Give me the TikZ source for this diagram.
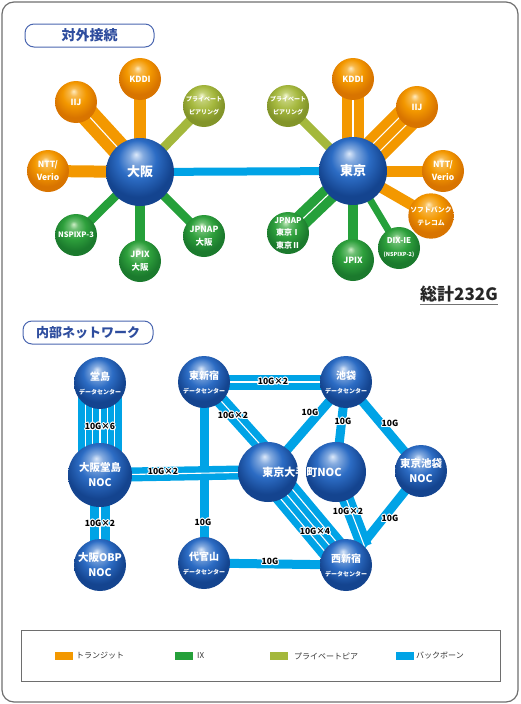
\documentclass[tikz,border=0pt]{standalone}
\usepackage{fontspec}
\setmainfont{Noto Sans CJK JP}
\usepackage{contour}
\contourlength{0.9pt}
\contournumber{16}
\usetikzlibrary{calc}

\definecolor{orgC}{HTML}{F39800}
\definecolor{grnC}{HTML}{25A03A}
\definecolor{limC}{HTML}{A4B83C}
\definecolor{bbC}{HTML}{00A3E6}
\definecolor{frameC}{HTML}{6E6E6E}
\definecolor{headC}{HTML}{2E4D9E}
\definecolor{headB}{HTML}{4A66B0}

\definecolor{sBhl}{HTML}{DCE9FA}
\definecolor{sBmid}{HTML}{2C6CC4}
\definecolor{sBdk}{HTML}{14448F}
\definecolor{sOhl}{HTML}{FFEBC0}
\definecolor{sOmid}{HTML}{F39800}
\definecolor{sOdk}{HTML}{D87400}
\definecolor{sGhl}{HTML}{CDEEC6}
\definecolor{sGmid}{HTML}{2EA03C}
\definecolor{sGdk}{HTML}{1B7A2D}
\definecolor{sLhl}{HTML}{F0F5CC}
\definecolor{sLmid}{HTML}{A6B93F}
\definecolor{sLdk}{HTML}{83952A}

\pgfdeclareradialshading{sphB}{\pgfqpoint{-3bp}{13bp}}{color(0bp)=(sBhl); color(5bp)=(sBmid!50!sBhl); color(14bp)=(sBmid); color(25bp)=(sBdk); color(50bp)=(sBdk)}
\pgfdeclareradialshading{sphO}{\pgfqpoint{-3bp}{13bp}}{color(0bp)=(sOhl); color(5bp)=(sOmid!60!sOhl); color(14bp)=(sOmid); color(25bp)=(sOdk); color(50bp)=(sOdk)}
\pgfdeclareradialshading{sphG}{\pgfqpoint{-3bp}{13bp}}{color(0bp)=(sGhl); color(5bp)=(sGmid!60!sGhl); color(14bp)=(sGmid); color(25bp)=(sGdk); color(50bp)=(sGdk)}
\pgfdeclareradialshading{sphL}{\pgfqpoint{-3bp}{13bp}}{color(0bp)=(sLhl); color(5bp)=(sLmid!60!sLhl); color(14bp)=(sLmid); color(25bp)=(sLdk); color(50bp)=(sLdk)}

\newcommand\fs[1]{\fontsize{#1}{#1}\selectfont}

\pgfdeclarelayer{links}
\pgfsetlayers{links,main}

\newcommand\mlink[5]{%
  \draw[#1, line width=#2pt] (#4.center) -- (#5.center);
  \pgfmathtruncatemacro\nbm{#3-1}%
  \ifnum\nbm>0
    \foreach \k in {1,...,\nbm}{%
      \pgfmathsetmacro\off{(\k/#3-0.5)*#2}%
      \draw[white, line width=1.1pt] ($(#4.center)!\off pt!90:(#5.center)$) -- ($(#5.center)!\off pt!-90:(#4.center)$);
    }%
  \fi}

\tikzset{
  sph/.style={circle, inner sep=0pt, text=white, font=\bfseries, align=center},
  sB/.style={sph, shading=sphB},
  sO/.style={sph, shading=sphO, minimum size=42pt},
  sG/.style={sph, shading=sphG, minimum size=42pt},
  sL/.style={sph, shading=sphL, minimum size=42pt},
  hdr/.style={draw=headB, line width=1pt, rounded corners=9pt, fill=white, text=headC, font=\bfseries},
  lbl/.style={inner sep=0pt, font=\fs{8.5}\bfseries, text=black},
  legt/.style={anchor=west, inner sep=0pt, font=\fs{8}, text=black!80},
}

\begin{document}
\begin{tikzpicture}[x=1pt, y=-1pt]
\useasboundingbox (0,0) rectangle (520,704);

% headings
\node[hdr, minimum width=129pt, minimum height=23pt] (h1) at (89.5,35.5) {\fs{14}対外接続};
\node[hdr, minimum width=130pt, minimum height=23pt] (h2) at (88,332.5) {\fs{13}内部ネットワーク};

% ---- external: Osaka
\node[sB, minimum size=68pt] (osk) at (140,172) {\fs{13}大阪};
\node[sO] (okddi) at (140,79) {\fs{8.5}KDDI};
\node[sO] (oiij) at (76,102) {\fs{8.5}IIJ};
\node[sL] (opp) at (204,106) {\fs{6}プライベート\\[1pt]\fs{6}ピアリング};
\node[sO] (ontt) at (48,171) {\fs{8.5}NTT/\\[1pt]\fs{8.5}Verio};
\node[sG] (onsp) at (76,235) {\fs{7.5}NSPIXP-3};
\node[sG] (ojpix) at (140,261) {\fs{8.5}JPIX\\[1pt]\fs{8.5}大阪};
\node[sG] (ojpnap) at (204,236) {\fs{8.5}JPNAP\\[1pt]\fs{8.5}大阪};

% ---- external: Tokyo
\node[sB, minimum size=68pt] (tky) at (353,171) {\fs{13}東京};
\node[sO] (tkddi) at (353,79) {\fs{8.5}KDDI};
\node[sO] (tiij) at (417,107) {\fs{8.5}IIJ};
\node[sO] (tntt) at (443,171) {\fs{8.5}NTT/\\[1pt]\fs{8.5}Verio};
\node[sO] (tsb) at (431,216) {\fs{6.8}ソフトバンク\\[1pt]\fs{6.8}テレコム};
\node[sG] (tdix) at (399,248) {\fs{8}DIX-IE\\[1pt]\fs{5.5}(NSPIXP-2)};
\node[sG] (tjpix) at (353,260) {\fs{8.5}JPIX};
\node[sG] (tjpnap) at (288,233) {\fs{8}JPNAP\\[0.5pt]\fs{8}東京Ⅰ\\[0.5pt]\fs{8}東京Ⅱ};
\node[sL] (tpp) at (288,106) {\fs{6}プライベート\\[1pt]\fs{6}ピアリング};

\node[inner sep=0pt, font=\fs{17}\bfseries, text=black!85] (total) at (459,294) {総計232G};
\draw[black!55, line width=1pt] (total.south west) ++(0,2.5) -- ++(78,0);

% ---- internal network
\node[sB, minimum size=52pt] (dojima) at (100,383) {\fs{10}堂島\\[2pt]\fs{6}データセンター};
\node[sB, minimum size=64pt] (dnoc) at (100,475) {\fs{10.5}大阪堂島\\[3pt]\fs{10.5}NOC};
\node[sB, minimum size=52pt] (obp) at (100,565) {\fs{10.5}大阪OBP\\[3pt]\fs{10.5}NOC};
\node[sB, minimum size=52pt] (higashi) at (204,382) {\fs{10}東新宿\\[2pt]\fs{6}データセンター};
\node[sB, minimum size=52pt] (daikan) at (204,563) {\fs{10}代官山\\[2pt]\fs{6}データセンター};
\node[sB, minimum size=52pt] (ikeb) at (346,382) {\fs{10}池袋\\[2pt]\fs{6}データセンター};
\node[sB, minimum size=60pt] (tkA) at (268,472) {};
\node[sB, minimum size=60pt] (tkB) at (336,472) {};
\node[inner sep=0pt, text=white, font=\fs{11}\bfseries] (tkT) at (302,472) {東京大手町NOC};
\node[sB, minimum size=52pt] (inoc) at (421,471) {\fs{10.5}東京池袋\\[3pt]\fs{10.5}NOC};
\node[sB, minimum size=52pt] (nishi) at (346,565) {\fs{10}西新宿\\[2pt]\fs{6}データセンター};

\coordinate (tkAin) at ($(tkA.center)!0.25!(tkB.center)$);

% ---- links
\begin{pgfonlayer}{links}
\draw[frameC, line width=1.2pt, rounded corners=12pt] (2,2) rectangle (518,702);
% Osaka
\mlink{orgC}{12}{1}{osk}{okddi}
\mlink{orgC}{23}{2}{osk}{oiij}
\mlink{orgC}{12}{1}{osk}{ontt}
\mlink{limC}{9}{1}{osk}{opp}
\mlink{grnC}{8.5}{1}{osk}{onsp}
\mlink{grnC}{10}{1}{osk}{ojpix}
\mlink{grnC}{8.5}{1}{osk}{ojpnap}
% backbone
\mlink{bbC}{8}{1}{osk}{tky}
% Tokyo
\mlink{orgC}{22}{2}{tky}{tkddi}
\mlink{orgC}{30}{3}{tky}{tiij}
\mlink{orgC}{11}{1}{tky}{tntt}
\mlink{orgC}{11}{1}{tky}{tsb}
\mlink{grnC}{7}{1}{tky}{tdix}
\mlink{grnC}{10}{1}{tky}{tjpix}
\mlink{grnC}{20}{2}{tky}{tjpnap}
\mlink{limC}{8.5}{1}{tky}{tpp}
% internal
\mlink{bbC}{44}{6}{dojima}{dnoc}
\mlink{bbC}{20}{2}{dnoc}{obp}
\mlink{bbC}{9}{1}{higashi}{daikan}
\mlink{bbC}{14}{2}{dnoc}{tkA}
\mlink{bbC}{15}{2}{higashi}{ikeb}
\mlink{bbC}{15}{2}{higashi}{tkAin}
\mlink{bbC}{9}{1}{ikeb}{tkA}
\mlink{bbC}{9}{1}{ikeb}{tkB}
\mlink{bbC}{9}{1}{ikeb}{inoc}
\mlink{bbC}{9}{1}{inoc}{nishi}
\mlink{bbC}{9}{1}{daikan}{nishi}
\mlink{bbC}{30}{4}{tkA}{nishi}
\draw[bbC, line width=15pt] (tkB.center) -- (nishi.north east);
\draw[white, line width=1.1pt] (tkB.center) -- (nishi.north east);
\end{pgfonlayer}

% ---- link labels
\node[lbl] (l1) at (100,427) {\contour{white}{10G×6}};
\node[lbl] (l2) at (100,524) {\contour{white}{10G×2}};
\node[lbl] (l3) at (163,472) {\contour{white}{10G×2}};
\node[lbl] (l4) at (203,523) {\contour{white}{10G}};
\node[lbl] (l5) at (273,382) {\contour{white}{10G×2}};
\node[lbl] (l6) at (233,416) {\contour{white}{10G×2}};
\node[lbl] (l7) at (310,413) {\contour{white}{10G}};
\node[lbl] (l8) at (343,422) {\contour{white}{10G}};
\node[lbl] (l9) at (390,424) {\contour{white}{10G}};
\node[lbl] (l10) at (348,512) {\contour{white}{10G×2}};
\node[lbl] (l11) at (315,532) {\contour{white}{10G×4}};
\node[lbl] (l12) at (390,519) {\contour{white}{10G}};
\node[lbl] (l13) at (270,562) {\contour{white}{10G}};

% ---- legend
\draw[frameC, line width=0.8pt] (21,630) rectangle (500,681);
\fill[orgC] (55,652) rectangle (73,660);
\node[legt] (lg1) at (76,656) {トランジット};
\fill[grnC] (175,652) rectangle (193,660);
\node[legt] (lg2) at (197,656) {IX};
\fill[limC] (270,652) rectangle (288,660);
\node[legt] (lg3) at (294,656) {プライベートピア};
\fill[bbC] (396,652) rectangle (414,660);
\node[legt] (lg4) at (416,656) {バックボーン};
\end{tikzpicture}
\end{document}
